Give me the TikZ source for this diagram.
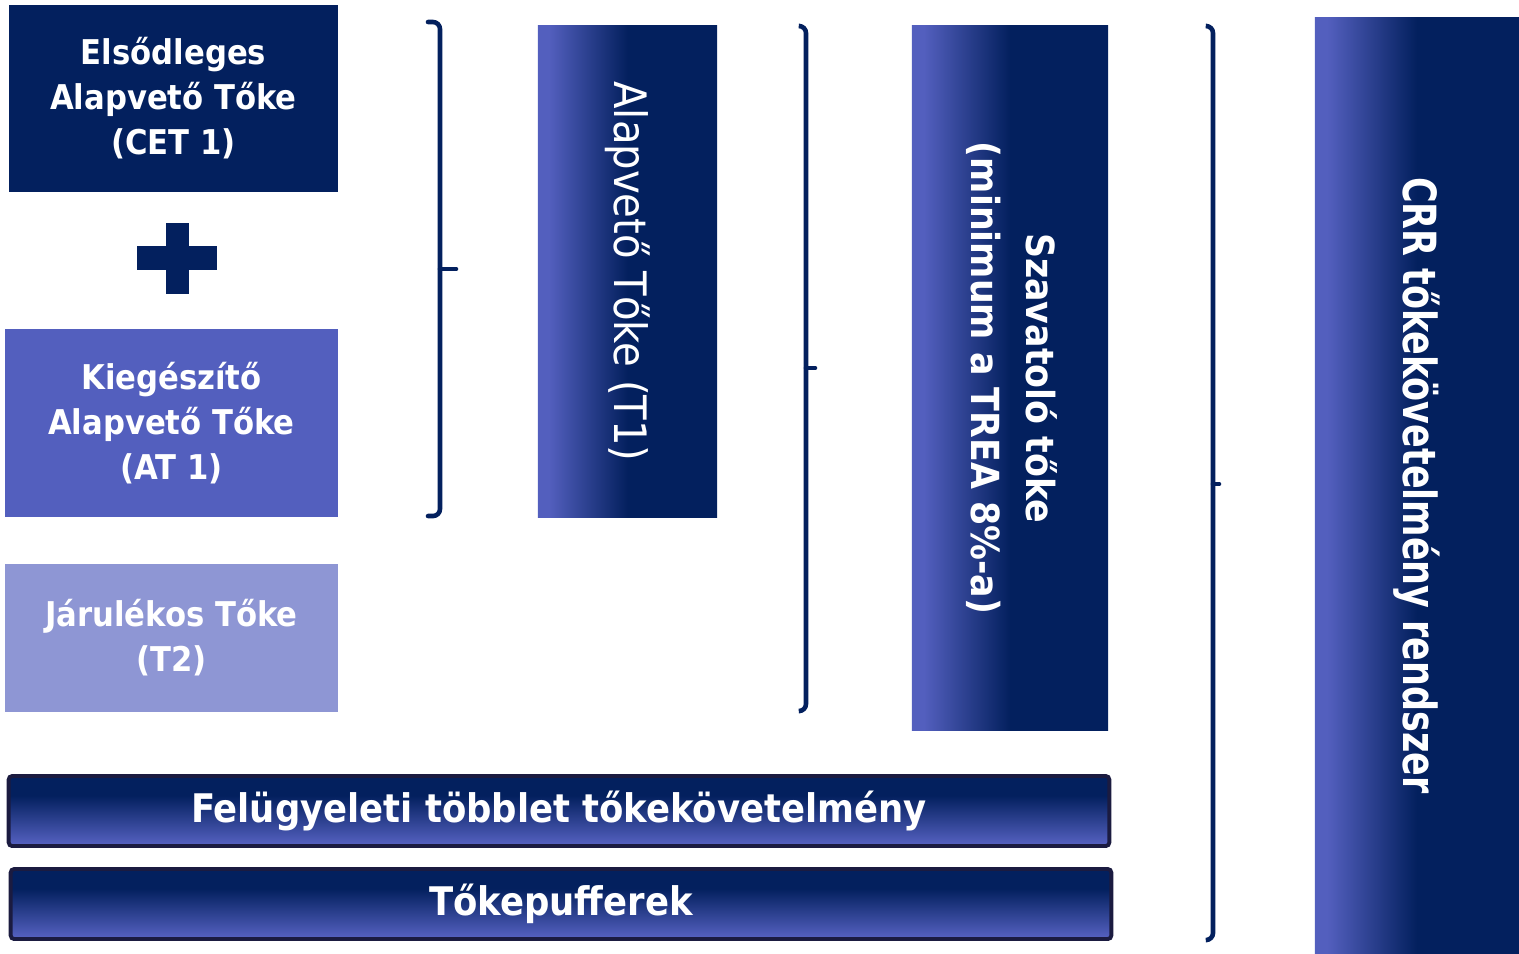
\documentclass[tikz,border=0pt]{standalone}
\usepackage{fontspec}
\setmainfont{DejaVu Sans Condensed}
\definecolor{sotet}{HTML}{03205E}
\definecolor{kozep}{HTML}{535FBE}
\definecolor{vilagos}{HTML}{8E96D4}
\definecolor{keret}{HTML}{1B1B40}
\pgfdeclarehorizontalshading{oszlopfade}{100bp}{color(0bp)=(kozep); color(28bp)=(kozep); color(50bp)=(sotet); color(100bp)=(sotet)}
\pgfdeclareverticalshading{savfade}{100bp}{color(0bp)=(kozep); color(27bp)=(kozep); color(61bp)=(sotet); color(100bp)=(sotet)}

\begin{document}
\begin{tikzpicture}[x=0.01cm,y=-0.01cm]
\tikzstyle{zarojel}=[draw=sotet,line width=1.3pt,rounded corners=2pt,line cap=round]
\tikzset{doboz/.style={fill=#1,text=white,inner sep=0pt,align=center,
font=\fontsize{9.7}{12.8}\selectfont\bfseries},
doboz/.default={sotet},
oszlop/.style={shading=oszlopfade,text=white,inner sep=0pt,align=center},
sav/.style={shading=savfade,draw=keret,line width=1.1pt,rounded corners=1pt,
text=white,inner sep=0pt,minimum width=11cm,minimum height=0.7cm,
font=\fontsize{11.2}{13}\selectfont\bfseries}}
\useasboundingbox (0,0) rectangle (1519,953);

\node[doboz,minimum width=3.29cm,minimum height=1.87cm] (CET) at (173.5,98.5) {Elsődleges\\Alapvető Tőke\\(CET 1)};
\node[doboz=kozep,minimum width=3.33cm,minimum height=1.88cm] (AT) at (171.5,423) {Kiegészítő\\Alapvető Tőke\\(AT 1)};
\node[doboz=vilagos,minimum width=3.33cm,minimum height=1.48cm] (T2) at (171.5,638) {Járulékos Tőke\\(T2)};
\fill[sotet] (166,223) rectangle (189,294);
\fill[sotet] (137,246) rectangle (217,270);

\node[oszlop,minimum width=1.79cm,minimum height=4.91cm,font=\fontsize{12.7}{15}\selectfont] (T1) at (627.5,271.5) {\rotatebox{-90}{Alapvető Tőke (T1)}};
\node[oszlop,minimum width=1.96cm,minimum height=7.04cm,font=\fontsize{11}{15.6}\selectfont\bfseries] (SZ) at (1010,378) {\rotatebox{-90}{\begin{tabular}{@{}c@{}}Szavatoló tőke\\(minimum a TREA 8\%-a)\end{tabular}}};
\node[oszlop,minimum width=2.04cm,minimum height=9.35cm,font=\fontsize{13}{15}\selectfont\bfseries\addfontfeature{FakeStretch=0.85}] (CRR) at (1417,485.5) {\rotatebox{-90}{CRR tőkekövetelmény rendszer}};

\node[sav] (F) at (559,811) {Felügyeleti többlet tőkekövetelmény};
\node[sav] (P) at (561,904) {Tőkepufferek};

\draw[zarojel] (428,22) -| (440,516) -- (428,516);
\draw[zarojel] (440,269) -- (456,269);
\draw[zarojel] (800,26) -| (806,711) -- (800,711);
\draw[zarojel] (806,368) -- (815,368);
\draw[zarojel] (1207,26) -| (1213,940) -- (1207,940);
\draw[zarojel] (1213,484) -- (1219,484);

\end{tikzpicture}
\end{document}
